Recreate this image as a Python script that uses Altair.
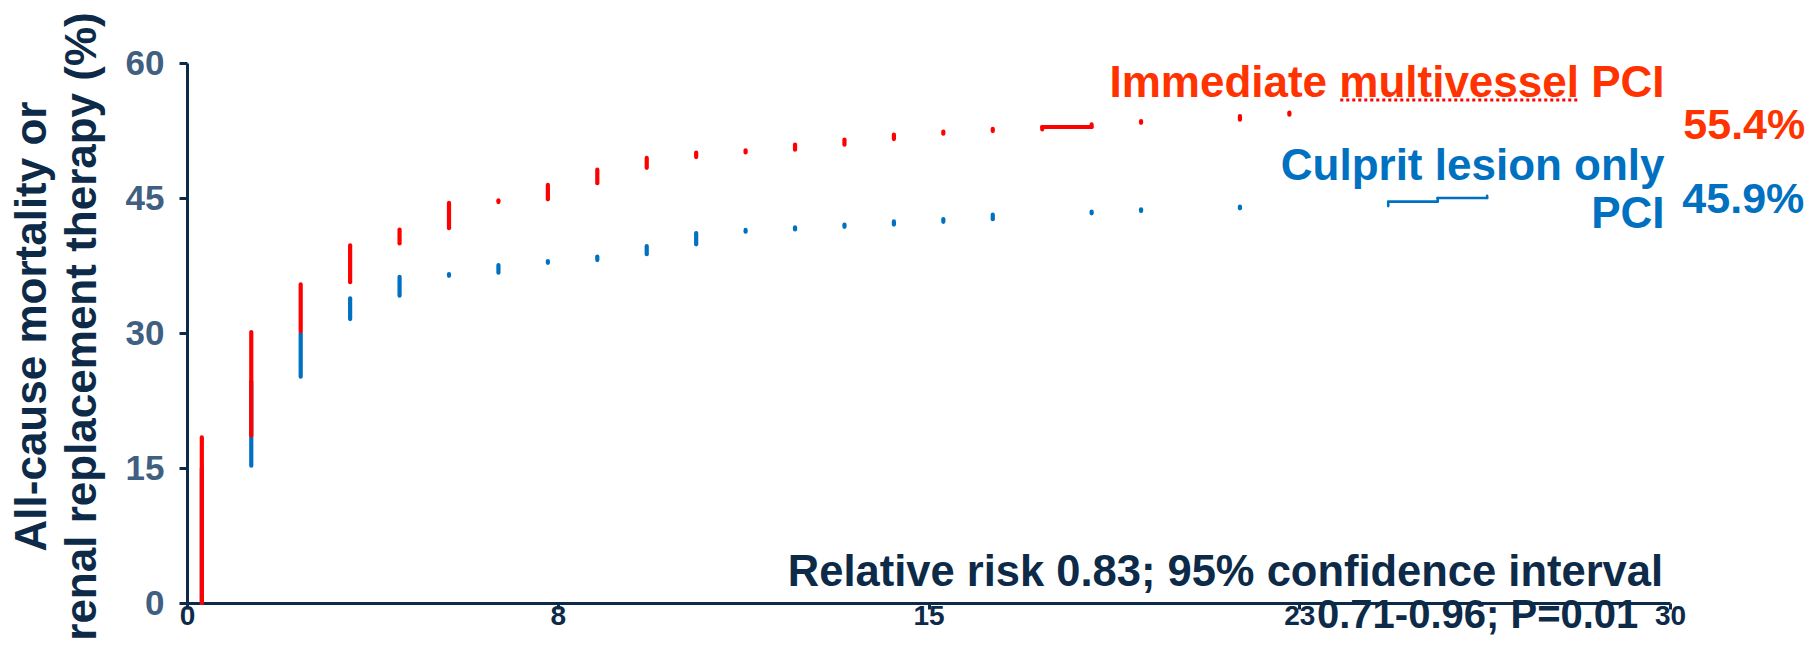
import altair as alt
import pandas as pd

# Immediate multivessel PCI: vertical steps at each day (lower %, upper %)
DAYS_MV = [0.3, 1.3, 2.3, 3.3, 4.3, 5.3, 6.3, 7.3, 8.3, 9.3, 10.3, 11.3, 12.3,
           13.3, 14.3, 15.3, 16.3, 19.3, 21.3, 22.3]
LO_MV = [0.0, 18.6, 30.2, 35.65, 39.95, 41.65, 44.55, 44.85, 46.65, 48.35, 49.55,
         50.06, 50.36, 50.92, 51.55, 52.14, 52.44, 53.35, 53.7, 54.25]
HI_MV = [18.4, 30.1, 35.4, 39.75, 41.5, 44.45, 44.75, 46.45, 48.15, 49.45, 50.05,
         50.3, 50.94, 51.49, 52.05, 52.38, 52.67, 53.55, 54.1, 54.5]

# Immediate multivessel PCI: connected stretch of the curve
TAIL_MV_X = [17.3, 17.3, 18.3]
TAIL_MV_X2 = [17.3, 18.3, 18.3]
TAIL_MV_Y = [52.6, 52.9, 52.9]
TAIL_MV_Y2 = [52.9, 52.9, 53.2]

# Culprit lesion only PCI: vertical steps at each day (lower %, upper %)
DAYS_CL = [0.3, 1.3, 2.3, 3.3, 4.3, 5.3, 6.3, 7.3, 8.3, 9.3, 10.3, 11.3, 12.3,
           13.3, 14.3, 15.3, 16.3, 18.3, 19.3, 21.3]
LO_CL = [0.0, 15.25, 25.15, 31.55, 34.15, 36.35, 36.7, 37.8, 38.1, 38.75, 39.85,
         41.25, 41.5, 41.8, 42.05, 42.35, 42.65, 43.3, 43.55, 43.85]
HI_CL = [15.0, 24.6, 30.0, 33.85, 36.25, 36.55, 37.55, 38.0, 38.5, 39.65, 41.1,
         41.45, 41.75, 42.05, 42.4, 42.65, 43.15, 43.5, 43.75, 44.05]

# Culprit lesion only PCI: connected stretch of the curve
TAIL_CL_X = [24.3, 24.3, 25.3, 25.3, 26.3]
TAIL_CL_X2 = [24.3, 25.3, 25.3, 26.3, 26.3]
TAIL_CL_Y = [44.1, 44.6, 44.6, 45.0, 45.0]
TAIL_CL_Y2 = [44.55, 44.6, 45.0, 45.0, 45.25]

X_TICKS = [0, 7.5, 15, 22.5, 30]
Y_TICKS = [0, 15, 30, 45, 60]

RED = "#ff0000"
RED_TEXT = "#ff3300"
BLUE = "#0070c0"
NAVY = "#0d2b48"
SLATE = "#415f80"
FONT = "Liberation Sans, Arial, sans-serif"

x_scale = alt.Scale(domain=[0, 30], nice=False, zero=False)
y_scale = alt.Scale(domain=[0, 60], nice=False, zero=True)

x_axis = alt.Axis(
    values=X_TICKS, format=".0f", grid=False, title=None,
    labelFont=FONT, labelFontWeight="bold", labelFontSize=28, labelColor=NAVY,
    labelPadding=-7, labelFlush=False,
    domainColor=NAVY, domainWidth=3, tickColor=NAVY, tickWidth=3, tickSize=6,
)
y_axis = alt.Axis(
    values=Y_TICKS, grid=False,
    title=["All-cause mortality or", "renal replacement therapy (%)"],
    titleFont=FONT, titleFontWeight="bold", titleFontSize=44, titleColor=NAVY,
    titleAngle=270, titleAlign="center", titleBaseline="bottom",
    titleLineHeight=50, titleX=-133, titleY=263,
    labelFont=FONT, labelFontWeight="bold", labelFontSize=35, labelColor=SLATE,
    labelPadding=15,
    domainColor=NAVY, domainWidth=3, tickColor=NAVY, tickWidth=3, tickSize=8,
)


def steps(days, lo, hi):
    return pd.DataFrame({"x": days, "x2": days, "y": lo, "y2": hi})


def tail(x, x2, y, y2):
    return pd.DataFrame({"x": x, "x2": x2, "y": y, "y2": y2})


def segments(df, color, width):
    return alt.Chart(df).mark_rule(
        color=color, strokeWidth=width, strokeCap="round"
    ).encode(
        x=alt.X("x:Q", scale=x_scale, axis=x_axis),
        x2="x2:Q",
        y=alt.Y("y:Q", scale=y_scale, axis=y_axis),
        y2="y2:Q",
    )


def label(text, x, y, color, size, align):
    return alt.Chart(alt.Data(values=[{}])).mark_text(
        text=text, align=align, baseline="alphabetic", font=FONT,
        fontWeight="bold", fontSize=size, color=color,
    ).encode(
        x=alt.XDatum(x, type="quantitative", scale=x_scale, axis=x_axis),
        y=alt.YDatum(y, type="quantitative", scale=y_scale, axis=y_axis),
    )


cl_steps = segments(steps(DAYS_CL, LO_CL, HI_CL), BLUE, 4.2)
cl_tail = segments(tail(TAIL_CL_X, TAIL_CL_X2, TAIL_CL_Y, TAIL_CL_Y2), BLUE, 2.6)
mv_steps = segments(steps(DAYS_MV, LO_MV, HI_MV), RED, 4.2)
mv_tail = segments(tail(TAIL_MV_X, TAIL_MV_X2, TAIL_MV_Y, TAIL_MV_Y2), RED, 4.0)

# dotted underline beneath "multivessel"
underline = alt.Chart(alt.Data(values=[{}])).mark_rule(
    color=RED, strokeWidth=3, strokeDash=[3, 3]
).encode(
    x=alt.XDatum(23.33, type="quantitative", scale=x_scale, axis=x_axis),
    x2=alt.datum(28.15),
    y=alt.YDatum(55.9, type="quantitative", scale=y_scale, axis=y_axis),
)

texts = [
    label("Immediate multivessel PCI", 29.89, 56.2, RED_TEXT, 44, "right"),
    label("55.4%", 30.27, 51.55, RED_TEXT, 43, "left"),
    label("Culprit lesion only", 29.89, 47.0, BLUE, 44, "right"),
    label("PCI", 29.89, 41.67, BLUE, 44, "right"),
    label("45.9%", 30.25, 43.33, BLUE, 43, "left"),
    label("Relative risk 0.83; 95% confidence interval", 29.86, 1.9, NAVY, 43.5, "right"),
    label("0.71-0.96; P=0.01", 29.36, -2.8, NAVY, 40, "right"),
]

chart = alt.layer(
    cl_steps, cl_tail, mv_steps, mv_tail, underline, *texts
).properties(
    width=1483, height=540,
    autosize=alt.AutoSizeParams(type="none"),
    padding={"left": 187, "top": 63, "right": 139, "bottom": 54},
    background="white",
).configure_view(stroke=None)

chart.save("out.html", embed_options={"renderer": "svg", "actions": False})
